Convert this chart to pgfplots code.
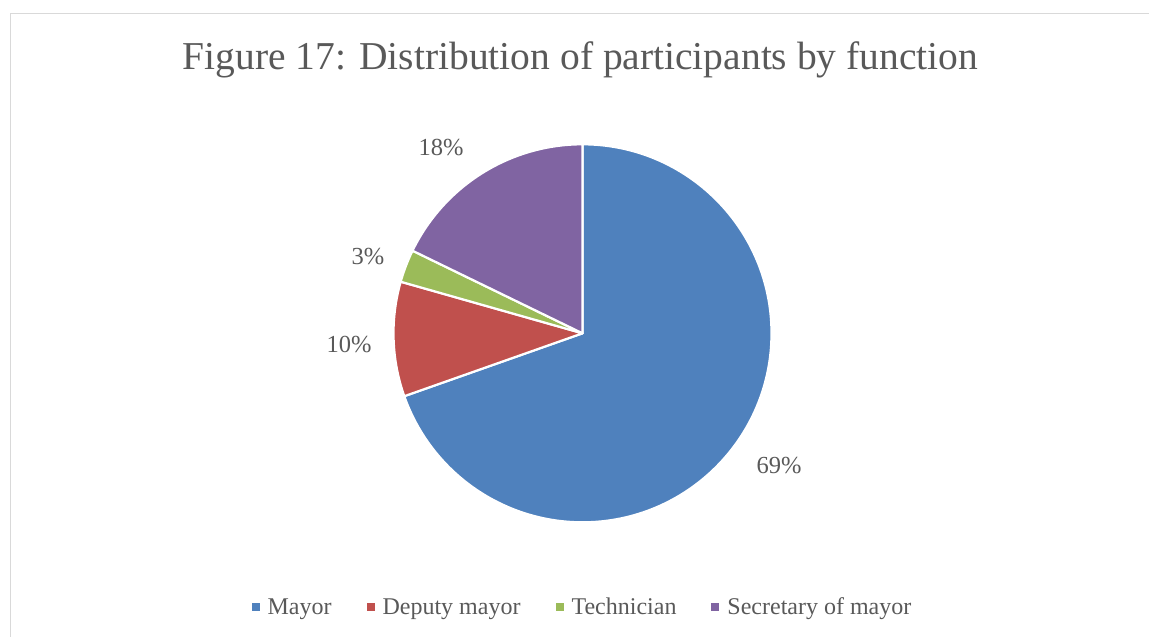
\documentclass[border=0pt]{standalone}
\usepackage{fontspec}
\setmainfont{Liberation Serif}
\usepackage{pgfplots}
\pgfplotsset{compat=1.18}

\definecolor{pMayor}{HTML}{4F81BD}
\definecolor{pDeputy}{HTML}{C0504D}
\definecolor{pTech}{HTML}{9BBB59}
\definecolor{pSecr}{HTML}{8064A2}
\definecolor{txt}{HTML}{595959}
\definecolor{framegray}{HTML}{D9D9D9}

% one slice: colour, share already used (%), own share (%)
\newcommand{\pieslice}[3]{%
  \fill[#1, draw=white, line width=2.2pt, line join=round]
    (axis cs:582.5,333.3) -- ++({90-3.6*(#2)}:189pt)
    arc[start angle={90-3.6*(#2)}, delta angle={-3.6*(#3)}, radius=189pt] -- cycle;}

\begin{document}
\begin{tikzpicture}
	\begin{axis}[
		x=1pt, y=1pt,
		xmin=0, xmax=1149,
		ymin=0, ymax=637,
		y dir=reverse,
		enlargelimits=false,
		hide axis,
		clip=false,
		legend columns=4,
		legend image code/.code={
			\fill[#1, draw=none] (0pt,-4pt) rectangle (8pt,4pt);
			\path[draw=none, fill=none] (0pt,0pt) rectangle (14pt,0.1pt);},
		legend style={
			at={(axis cs:582.5,607)},
			anchor=center,
			draw=none, fill=none,
			text=txt,
			font=\fontsize{24}{28}\selectfont,
			/tikz/every even column/.append style={column sep=33pt}
		}
	]
	\draw[framegray, line width=1.6pt] (axis cs:10.5,13.5) rectangle (axis cs:1180,670);

	\node[txt, font=\fontsize{39.5}{44}\selectfont] at (axis cs:580.5,60) {Figure 17: Distribution of participants by function};

	% shares in %, clockwise from the top
	\pieslice{pMayor}{0}{69.6}
	\pieslice{pDeputy}{69.6}{9.8}
	\pieslice{pTech}{79.4}{2.8}
	\pieslice{pSecr}{82.2}{17.8}

	\node[txt, font=\fontsize{24.5}{28}\selectfont] at (axis cs:779,466) {69\%};
	\node[txt, font=\fontsize{24.5}{28}\selectfont] at (axis cs:349,345) {10\%};
	\node[txt, font=\fontsize{24.5}{28}\selectfont] at (axis cs:368,257) {3\%};
	\node[txt, font=\fontsize{24.5}{28}\selectfont] at (axis cs:441,148) {18\%};

	\addlegendimage{fill=pMayor}
	\addlegendentry{Mayor}
	\addlegendimage{fill=pDeputy}
	\addlegendentry{Deputy mayor}
	\addlegendimage{fill=pTech}
	\addlegendentry{Technician}
	\addlegendimage{fill=pSecr}
	\addlegendentry{Secretary of mayor}
	\end{axis}
	\pgfresetboundingbox
	\path (0,0) rectangle (1149pt,637pt);
\end{tikzpicture}
\end{document}
